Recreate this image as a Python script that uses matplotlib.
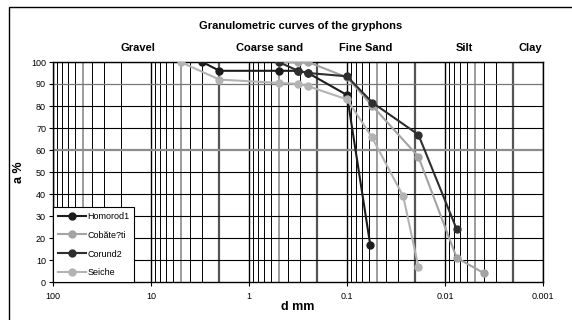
import numpy as np
import matplotlib
matplotlib.use("Agg")
import matplotlib.pyplot as plt
from matplotlib.patches import Rectangle
from matplotlib.transforms import blended_transform_factory

plt.rcParams['font.family'] = ['Liberation Sans', 'DejaVu Sans']

# grain diameter (mm) and cumulative percentage for each gryphon
homorod_d = [3, 2, 0.5, 0.315, 0.25, 0.1, 0.058]
homorod_p = [100, 96, 96, 96, 95, 85, 17]

cobatesti_d = [0.5, 0.315, 0.25, 0.1, 0.055, 0.0187, 0.0076, 0.004]
cobatesti_p = [100, 100, 100, 93, 80, 57, 11, 4]

corund_d = [0.5, 0.315, 0.25, 0.1, 0.055, 0.0187, 0.0076]
corund_p = [100, 96, 95, 93.5, 81.5, 67, 24]

seiche_d = [5, 2, 0.5, 0.315, 0.25, 0.1, 0.056, 0.0267, 0.0187]
seiche_p = [100, 92, 90.5, 90, 89, 83, 66, 39, 7]

series_names = ['Homorod1', 'Cobăte?ti', 'Corund2', 'Seiche']
series_colors = ['#1c1c1c', '#a3a3a3', '#2e2e2e', '#b3b3b3']

# grain size classes and where their names sit
class_names = ['Gravel', 'Coarse sand', 'Fine Sand', 'Silt', 'Clay']
class_pos = [13.6, 0.61, 0.064, 0.0063, 0.00136]
class_bounds = [2, 0.2, 0.02, 0.002]

x_ticks = [100, 10, 1, 0.1, 0.01, 0.001]
x_tick_labels = ['100', '10', '1', '0.1', '0.01', '0.001']
y_ticks = list(range(0, 101, 10))

fig = plt.figure(figsize=(5.72, 3.2), dpi=100)
ax = fig.add_axes([53 / 572, 38 / 320, 490 / 572, 220 / 320])

# outer chart frame (runs off the bottom/right of the picture)
fig.patches.append(Rectangle((9 / 572, -0.1), 1.2, 1.1 - 7 / 320,
                             transform=fig.transFigure, fill=False,
                             edgecolor='black', lw=1.0))

ax.set_xscale('log')
ax.set_xlim(100, 0.001)
ax.set_ylim(0, 100)

# vertical grid: every multiple inside each decade
for dec in [10, 1, 0.1, 0.01, 0.001]:
    for m in range(2, 10):
        v = dec * m
        if any(np.isclose(v, b) for b in class_bounds):
            ax.axvline(v, color='#555555', lw=1.6, zorder=1)
        elif m == 5:
            ax.axvline(v, color='#8c8c8c', lw=1.2, zorder=1)
        else:
            ax.axvline(v, color='black', lw=0.7, zorder=1)
for v in x_ticks:
    ax.axvline(v, color='black', lw=1.0, zorder=1)

for v in y_ticks[1:]:
    if v == 60:
        ax.axhline(v, color='#8c8c8c', lw=1.6, zorder=1)
    elif v == 90:
        ax.axhline(v, color='#777777', lw=0.9, zorder=1)
    else:
        ax.axhline(v, color='black', lw=0.8, zorder=1)

all_d = [homorod_d, cobatesti_d, corund_d, seiche_d]
all_p = [homorod_p, cobatesti_p, corund_p, seiche_p]
for i, (d, p) in enumerate(zip(all_d, all_p)):
    ax.plot(d, p, color=series_colors[i], lw=1.5, marker='o', ms=5,
            label=series_names[i], zorder=3 + i)

ax.set_xticks(x_ticks)
ax.set_xticklabels(x_tick_labels)
ax.xaxis.set_minor_locator(matplotlib.ticker.NullLocator())
ax.set_yticks(y_ticks)
ax.tick_params(axis='both', labelsize=6.5, length=3, width=0.8, direction='out')
ax.tick_params(axis='x', pad=4)
ax.tick_params(axis='y', pad=2)
for s in ax.spines.values():
    s.set_linewidth(1.0)

ax.set_xlabel('d mm', fontsize=9, fontweight='bold', labelpad=0)
ax.set_ylabel('a %', fontsize=9, fontweight='bold', labelpad=4)

trans = blended_transform_factory(ax.transData, ax.transAxes)
for name, xp in zip(class_names, class_pos):
    ax.text(xp, 1.064, name, transform=trans, ha='center', va='center',
            fontsize=8, fontweight='bold')

fig.text(301 / 572, 1 - 26 / 320, 'Granulometric curves of the gryphons',
         ha='center', va='center', fontsize=8, fontweight='bold')

leg = ax.legend(loc='lower left', bbox_to_anchor=(0, 0), borderaxespad=0,
                fontsize=6.5, frameon=True, fancybox=False, framealpha=1,
                edgecolor='black', handlelength=3.2, handletextpad=0.1,
                labelspacing=1.1, borderpad=0.5)
leg.get_frame().set_linewidth(0.8)
leg.set_zorder(10)

fig.savefig('out.png', dpi=100)
